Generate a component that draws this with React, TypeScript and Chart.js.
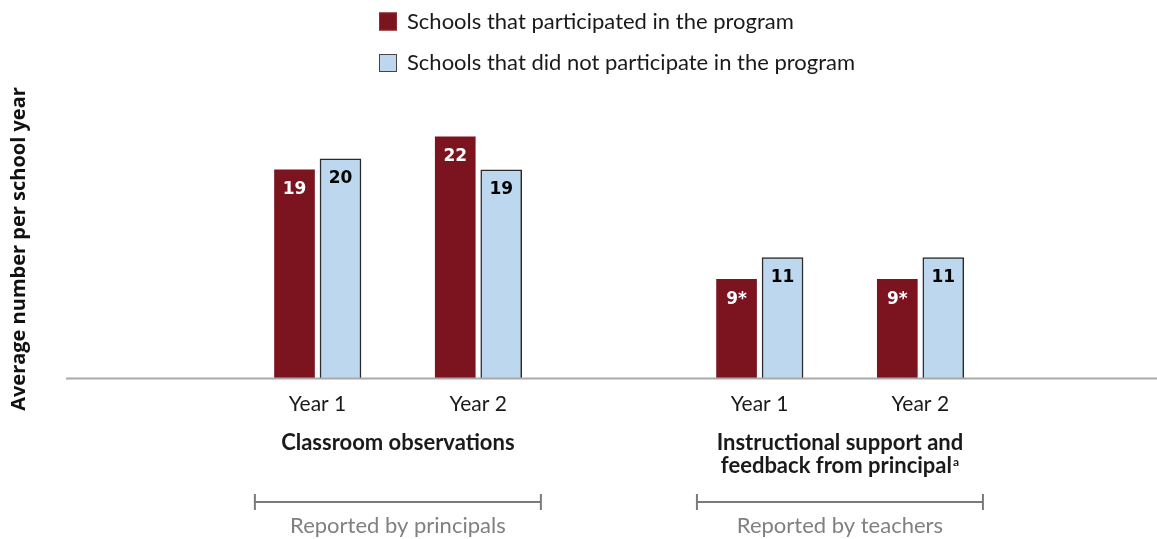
import React, { useEffect, useRef } from "react";
import { Chart, registerables } from "chart.js";

Chart.register(...registerables);

// ---- data ----
const seriesNames = [
  "Schools that participated in the program",
  "Schools that did not participate in the program",
];
const yearLabels = ["Year 1", "Year 2"];
const groupTitles = [
  ["Classroom observations"],
  ["Instructional support and", "feedback from principal"],
];
const groupFootnotes = ["", "a"];
const reporters = ["Reported by principals", "Reported by teachers"];
const participated = [19, 22, 9, 9];
const notParticipated = [20, 19, 11, 11];
const participatedLabels = ["19", "22", "9*", "9*"];
const notParticipatedLabels = ["20", "19", "11", "11"];
const yAxisTitle = "Average number per school year";
const yMax = 24;

// ---- style ----
const MAROON = "#7b141f";
const BLUE = "#bdd7ee";
const BAR_EDGE = "#2a2a2a";
const TEXT = "#1a1a1a";
const GRAY = "#808080";
const SANS = "Lato, 'Open Sans', sans-serif";
const NUM = "'DejaVu Sans', Verdana, sans-serif";

// spacer categories so the year slots land with the reference's uneven gaps
const WITHIN_GAP = 3;
const BETWEEN_GAP = 6;
const labels: string[] = [];
const slotIndex: number[] = [];
groupTitles.forEach((_, gi) => {
  if (gi > 0) for (let i = 0; i < BETWEEN_GAP; i++) labels.push("");
  yearLabels.forEach((yl, yi) => {
    if (yi > 0) for (let i = 0; i < WITHIN_GAP; i++) labels.push("");
    slotIndex.push(labels.length);
    labels.push(yl);
  });
});
const spread = (vals: number[]) =>
  labels.map((_, i) => {
    const k = slotIndex.indexOf(i);
    return k >= 0 ? vals[k] : null;
  });

const annotate = {
  id: "annotate",
  afterDatasetsDraw(chart: any) {
    const { ctx } = chart;
    const xs = chart.scales.x;
    const ys = chart.scales.y;
    const y0 = ys.getPixelForValue(0);
    ctx.save();
    // baseline
    ctx.strokeStyle = "#a9a9a9";
    ctx.lineWidth = 2;
    ctx.beginPath();
    ctx.moveTo(66, y0 + 0.5);
    ctx.lineTo(chart.width, y0 + 0.5);
    ctx.stroke();

    // value labels inside bars
    ctx.font = `bold 17px ${NUM}`;
    ctx.textAlign = "center";
    ctx.textBaseline = "middle";
    const lbls = [participatedLabels, notParticipatedLabels];
    const cols = ["#ffffff", "#000000"];
    [0, 1].forEach((di) => {
      const meta = chart.getDatasetMeta(di);
      slotIndex.forEach((si, k) => {
        const el = meta.data[si];
        if (!el) return;
        ctx.fillStyle = cols[di];
        ctx.fillText(lbls[di][k], el.x, el.y + 20);
      });
    });

    // group titles, brackets, reporters
    groupTitles.forEach((lines, gi) => {
      const xa = xs.getPixelForValue(slotIndex[gi * 2]);
      const xb = xs.getPixelForValue(slotIndex[gi * 2 + 1]);
      const cx = (xa + xb) / 2;
      ctx.fillStyle = TEXT;
      ctx.textBaseline = "middle";
      lines.forEach((line, li) => {
        const ty = 443 + li * 23;
        const isLast = li === lines.length - 1;
        const fn = isLast ? groupFootnotes[gi] : "";
        ctx.font = `bold 22px ${SANS}`;
        const w = ctx.measureText(line).width;
        let ws = 0;
        if (fn) {
          ctx.font = `bold 12px ${SANS}`;
          ws = ctx.measureText(fn).width + 1;
        }
        const start = cx - (w + ws) / 2;
        ctx.font = `bold 22px ${SANS}`;
        ctx.textAlign = "left";
        ctx.fillText(line, start, ty);
        if (fn) {
          ctx.font = `bold 12px ${SANS}`;
          ctx.fillText(fn, start + w + 1, ty - 4);
        }
      });
      // bracket
      const bl = cx - 143;
      const br = cx + 143;
      const by = 502;
      ctx.strokeStyle = "#7a7a7a";
      ctx.lineWidth = 2;
      ctx.beginPath();
      ctx.moveTo(bl, by);
      ctx.lineTo(br, by);
      ctx.moveTo(bl, by - 8);
      ctx.lineTo(bl, by + 8);
      ctx.moveTo(br, by - 8);
      ctx.lineTo(br, by + 8);
      ctx.stroke();
      ctx.fillStyle = GRAY;
      ctx.font = `22px ${SANS}`;
      ctx.textAlign = "center";
      ctx.fillText(reporters[gi], cx, 526);
    });
    ctx.restore();
  },
  afterDraw(chart: any) {
    const { ctx } = chart;
    ctx.save();
    // legend
    const fills = [MAROON, BLUE];
    const edges = ["#8e2a33", "#444444"];
    const rowsY = [21.5, 63];
    seriesNames.forEach((name, i) => {
      ctx.fillStyle = fills[i];
      ctx.fillRect(379, rowsY[i] - 9, 18, 18);
      ctx.strokeStyle = edges[i];
      ctx.lineWidth = 1;
      ctx.strokeRect(379.5, rowsY[i] - 8.5, 17, 17);
      ctx.fillStyle = TEXT;
      ctx.font = `22px ${SANS}`;
      ctx.textAlign = "left";
      ctx.textBaseline = "middle";
      ctx.fillText(name, 407, rowsY[i]);
    });
    // y axis title
    ctx.translate(19, 249);
    ctx.rotate(-Math.PI / 2);
    ctx.font = `bold 20px 'Open Sans', sans-serif`;
    ctx.fillStyle = "#111111";
    ctx.textAlign = "center";
    ctx.textBaseline = "middle";
    ctx.fillText(yAxisTitle, 0, 0);
    ctx.restore();
  },
};

export default function App() {
  const ref = useRef<HTMLCanvasElement | null>(null);
  useEffect(() => {
    document.body.style.margin = "0";
    if (!ref.current) return;
    const chart = new Chart(ref.current, {
      type: "bar",
      data: {
        labels,
        datasets: [
          {
            label: seriesNames[0],
            data: spread(participated),
            backgroundColor: MAROON,
            borderWidth: 0,
            barThickness: 46,
            maxBarThickness: 40,
            clip: false,
          },
          {
            label: seriesNames[1],
            data: spread(notParticipated),
            backgroundColor: BLUE,
            borderColor: BAR_EDGE,
            borderWidth: 1.5,
            barThickness: 46,
            maxBarThickness: 41,
            clip: false,
          },
        ],
      },
      options: {
        responsive: false,
        animation: false,
        devicePixelRatio: 1,
        layout: { padding: { left: 317.5, right: 236.7, top: 115, bottom: 121 } },
        plugins: { legend: { display: false }, tooltip: { enabled: false } },
        scales: {
          x: {
            type: "category",
            offset: false,
            grid: { display: false, drawTicks: false },
            border: { display: false },
            ticks: {
              autoSkip: false,
              maxRotation: 0,
              minRotation: 0,
              padding: 14,
              color: TEXT,
              font: { family: SANS, size: 21 },
            },
            afterFit: (s: any) => {
              s.height = 40;
            },
          },
          y: { display: false, min: 0, max: yMax },
        },
      },
      plugins: [annotate],
    });
    return () => chart.destroy();
  }, []);
  return (
    <div style={{ width: 1157, height: 539 }}>
      <canvas ref={ref} width={1157} height={539} style={{ display: "block" }} />
    </div>
  );
}
